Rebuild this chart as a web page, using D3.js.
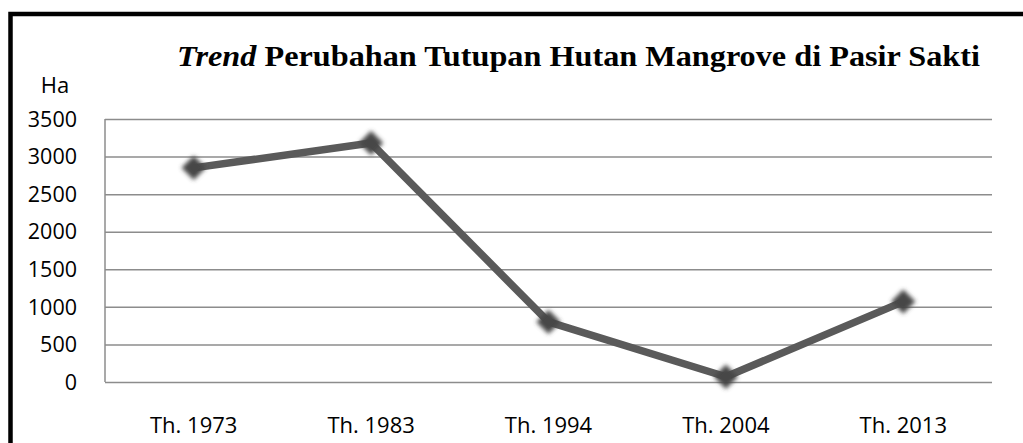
<!DOCTYPE html>
<html>
<head>
<meta charset="utf-8">
<script src="https://cdn.jsdelivr.net/npm/d3@7"></script>
<style>
  body { margin: 0; background: #fff; }
  svg { display: block; }
</style>
</head>
<body>
<svg width="1023" height="443"></svg>
<script>
// data
const years = ['Th. 1973', 'Th. 1983', 'Th. 1994', 'Th. 2004', 'Th. 2013']
const hectares = [2850, 3180, 800, 70, 1070]
const yTicks = [0, 500, 1000, 1500, 2000, 2500, 3000, 3500]

const svg = d3.select('svg')
const width = +svg.attr('width')
const height = +svg.attr('height')

const sans = "'Open Sans', sans-serif"
const serif = "'Liberation Serif', 'Times New Roman', serif"

// frame (cropped box, only top and left edge visible)
svg.append('path')
    .attr('d', `M10.5,${height} V14 H${width}`)
    .attr('fill', 'none')
    .attr('stroke', '#000')
    .attr('stroke-width', 4.5)

const margin = { left: 105, right: 992, top: 119, bottom: 382 }

const x = d3.scalePoint()
    .domain(years)
    .range([margin.left, margin.right])
    .padding(0.5)

const y = d3.scaleLinear()
    .domain([0, 3500])
    .range([margin.bottom, margin.top])

// gridlines
svg.append('g')
    .attr('transform', `translate(${margin.left},0)`)
    .call(d3.axisLeft(y).tickValues(yTicks).tickSize(-(margin.right - margin.left)).tickFormat(''))
    .call(g => g.select('.domain').remove())
    .selectAll('line')
        .attr('stroke', '#8c8c8c')
        .attr('stroke-width', 1.5)

// left axis line
svg.append('line')
    .attr('x1', margin.left).attr('x2', margin.left)
    .attr('y1', margin.top).attr('y2', margin.bottom)
    .attr('stroke', '#8c8c8c')
    .attr('stroke-width', 1.5)

// y tick labels
svg.append('g')
    .selectAll('text')
    .data(yTicks)
    .join('text')
        .attr('x', 77)
        .attr('y', d => y(d))
        .attr('dy', '0.36em')
        .attr('text-anchor', 'end')
        .attr('font-family', sans)
        .attr('font-size', 21.5)
        .attr('fill', '#000')
        .text(d => d)

// unit label
svg.append('text')
    .attr('x', 55)
    .attr('y', 93)
    .attr('text-anchor', 'middle')
    .attr('font-family', sans)
    .attr('font-size', 22)
    .text('Ha')

// x labels
svg.append('g')
    .selectAll('text')
    .data(years)
    .join('text')
        .attr('x', d => x(d))
        .attr('y', 433)
        .attr('text-anchor', 'middle')
        .attr('font-family', sans)
        .attr('font-size', 22)
        .text(d => d)

// title
const title = svg.append('text')
    .attr('x', 177)
    .attr('y', 66)
    .attr('font-family', serif)
    .attr('font-weight', 'bold')
    .attr('font-size', 30)
    .attr('textLength', 803)
    .attr('lengthAdjust', 'spacingAndGlyphs')
title.append('tspan').attr('font-style', 'italic').text('Trend')
title.append('tspan').text(' Perubahan Tutupan Hutan Mangrove di Pasir Sakti')

// soft shadow for markers
const defs = svg.append('defs')
defs.append('filter')
    .attr('id', 'soft')
    .attr('x', '-50%').attr('y', '-50%')
    .attr('width', '200%').attr('height', '200%')
    .append('feGaussianBlur')
        .attr('stdDeviation', 2.3)

const pts = years.map((d, i) => [x(d), y(hectares[i])])

// line
svg.append('path')
    .datum(pts)
    .attr('d', d3.line())
    .attr('fill', 'none')
    .attr('stroke', '#5a5a5a')
    .attr('stroke-width', 7.5)
    .attr('stroke-linejoin', 'round')

// diamond markers
svg.append('g')
    .selectAll('path')
    .data(pts)
    .join('path')
        .attr('transform', d => `translate(${d[0]},${d[1]})`)
        .attr('d', d3.symbol(d3.symbolDiamond2, 380))
        .attr('fill', '#474747')
        .attr('filter', 'url(#soft)')
</script>
</body>
</html>
